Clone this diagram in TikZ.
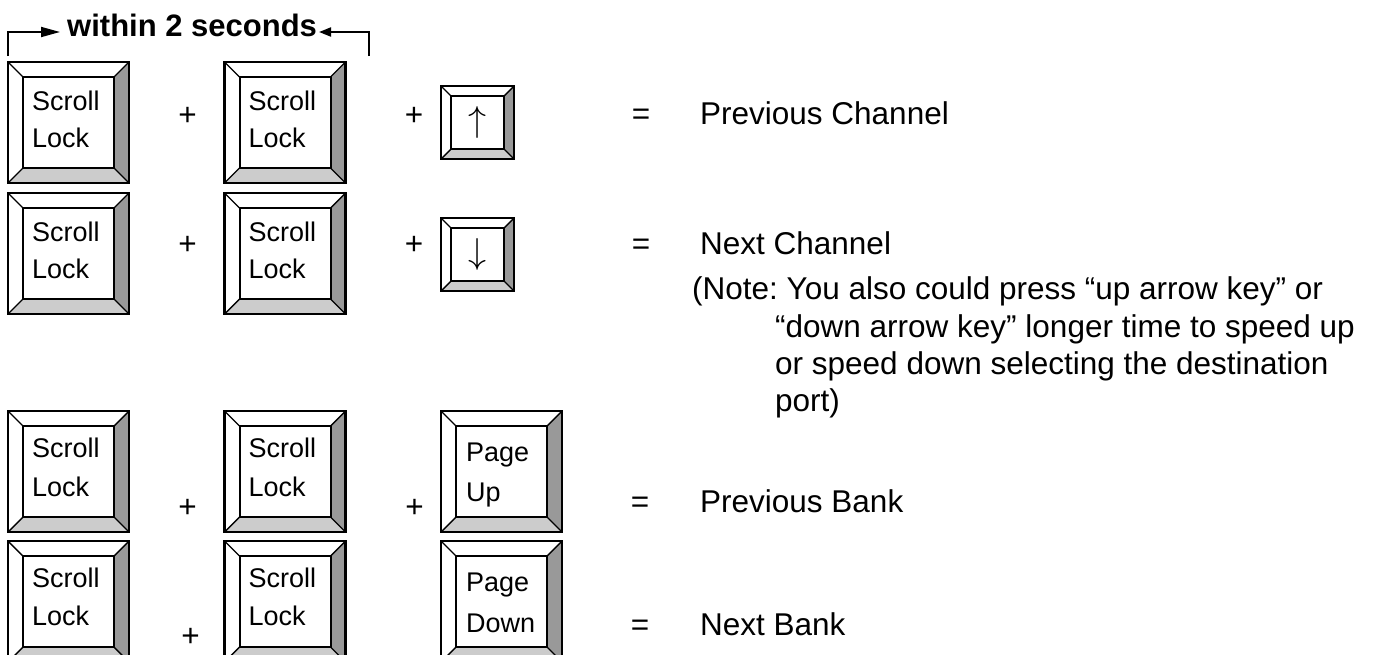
\documentclass[tikz,border=0pt]{standalone}
\usepackage{graphicx}
\usepackage{fontspec}
\setmainfont{Liberation Sans}
\usetikzlibrary{arrows.meta}
\frenchspacing
\definecolor{keydark}{HTML}{999999}
\definecolor{keylight}{HTML}{CCCCCC}
\newcommand\txtfont{\fontsize{31.5}{38}\selectfont}
\newcommand\keyfont{\fontsize{27}{32}\selectfont}
% name, x (left), y (top), size, bevel
\newcommand\kbkey[5]{%
  \pgfmathsetmacro\kbx{#2}\pgfmathsetmacro\kby{#3}%
  \pgfmathsetmacro\kbX{#2+#4}\pgfmathsetmacro\kbY{#3+#4}%
  \pgfmathsetmacro\kix{#2+#5}\pgfmathsetmacro\kiy{#3+#5}%
  \pgfmathsetmacro\kiX{#2+#4-#5}\pgfmathsetmacro\kiY{#3+#4-#5}%
  \pgfmathsetmacro\kcx{#2+#4/2}\pgfmathsetmacro\kcy{#3+#4/2}%
  \pgfmathsetmacro\kiw{#4-2*#5}%
  \fill[white] (\kbx,\kby) rectangle (\kbX,\kbY);
  \fill[keydark] (\kbX,\kby) -- (\kiX,\kiy) -- (\kiX,\kiY) -- (\kbX,\kbY) -- cycle;
  \fill[keylight] (\kbx,\kbY) -- (\kix,\kiY) -- (\kiX,\kiY) -- (\kbX,\kbY) -- cycle;
  \draw[diag] (\kbx,\kby) -- (\kix,\kiy) (\kbX,\kby) -- (\kiX,\kiy)
              (\kbx,\kbY) -- (\kix,\kiY) (\kbX,\kbY) -- (\kiX,\kiY);
  \node[face, minimum width=\kiw pt, minimum height=\kiw pt] (#1) at (\kcx,\kcy) {};
  \draw[outer] (\kbx,\kby) rectangle (\kbX,\kbY);
}
% name, x, y(top), line1, line2, dy1, dy2
\newcommand\kblabel[7]{%
  \node[keytxt] (#1-a) at (#2+24,#3+#6) {#4};
  \node[keytxt] (#1-b) at (#2+24,#3+#7) {#5};
}
\begin{document}
\begin{tikzpicture}[x=1pt,y=-1pt,
  diag/.style={line width=1.4pt},
  face/.style={draw, line width=2pt, fill=white, inner sep=0pt, outer sep=0pt},
  outer/.style={line width=2.6pt},
  keytxt/.style={anchor=base west, inner sep=0pt, font=\keyfont},
  txt/.style={anchor=base west, inner sep=0pt, font=\txtfont},
  sym/.style={anchor=base, inner sep=0pt, font=\txtfont},
  arrowglyph/.style={inner sep=0pt, font=\fontsize{24.88}{30}\selectfont},
  brk/.style={line width=1.8pt}]
\useasboundingbox[fill=white] (0,0) rectangle (1391,654);

% bracket
\node[anchor=base west, inner sep=0pt, font=\fontsize{31}{36}\selectfont\bfseries] (within) at (67,36) {within 2 seconds};
\coordinate (bl) at (8,56);
\coordinate (lt) at (60,32);
\coordinate (br) at (369,56);
\coordinate (rt) at (319,32);
\draw[brk, -{Triangle[length=19pt,width=10pt]}] (bl) |- (lt);
\draw[brk, -{Triangle[length=12pt,width=9pt]}] (br) |- (rt);

% row 1
\kbkey{k11}{8}{62}{121}{15}
\kblabel{k11}{8}{62}{Scroll}{Lock}{48}{85}
\kbkey{k12}{224.5}{62}{121}{15}
\kblabel{k12}{224.5}{62}{Scroll}{Lock}{48}{85}
\kbkey{ku}{441}{86}{73}{10}
\node[arrowglyph] (ku-t) at (ku) {\scalebox{1.45}{$\uparrow$}};
\node[sym] (p11) at (187.5,125) {+};
\node[sym] (p12) at (414,125) {+};
\node[sym] (e1) at (641,124) {=};
\node[txt] (t1) at (700,124) {Previous Channel};

% row 2
\kbkey{k21}{8}{193}{121}{15}
\kblabel{k21}{8}{193}{Scroll}{Lock}{48}{85}
\kbkey{k22}{224.5}{193}{121}{15}
\kblabel{k22}{224.5}{193}{Scroll}{Lock}{48}{85}
\kbkey{kd}{441}{218}{73}{10}
\node[arrowglyph] (kd-t) at (kd) {\scalebox{1.45}{$\downarrow$}};
\node[sym] (p21) at (187.5,254.5) {+};
\node[sym] (p22) at (414,254.5) {+};
\node[sym] (e2) at (641,254) {=};
\node[txt] (t2) at (700,254) {Next Channel};
\node[txt] (n1) at (692,299) {(Note: You also could press “up arrow key” or};
\node[txt] (n2) at (775,337) {“down arrow key” longer time to speed up};
\node[txt] (n3) at (775,374) {or speed down selecting the destination};
\node[txt] (n4) at (775,411) {port)};

% row 3
\kbkey{k31}{8}{411}{121}{15}
\kblabel{k31}{8}{411}{Scroll}{Lock}{46}{85}
\kbkey{k32}{224.5}{411}{121}{15}
\kblabel{k32}{224.5}{411}{Scroll}{Lock}{46}{85}
\kbkey{k33}{441}{411}{121}{15}
\kblabel{k33}{442}{411}{Page}{Up}{50}{90}
\node[sym] (p31) at (187.5,517) {+};
\node[sym] (p32) at (414.5,517) {+};
\node[sym] (e3) at (640,512.5) {=};
\node[txt] (t3) at (700,512.5) {Previous Bank};

% row 4
\kbkey{k41}{8}{541}{121}{15}
\kblabel{k41}{8}{541}{Scroll}{Lock}{46}{84}
\kbkey{k42}{224.5}{541}{121}{15}
\kblabel{k42}{224.5}{541}{Scroll}{Lock}{46}{84}
\kbkey{k43}{441}{541}{121}{15}
\kblabel{k43}{442}{541}{Page}{Down}{50}{91}
\node[sym] (p41) at (190.5,646) {+};
\node[sym] (e4) at (640,635) {=};
\node[txt] (t4) at (700,635) {Next Bank};
\end{tikzpicture}
\end{document}
